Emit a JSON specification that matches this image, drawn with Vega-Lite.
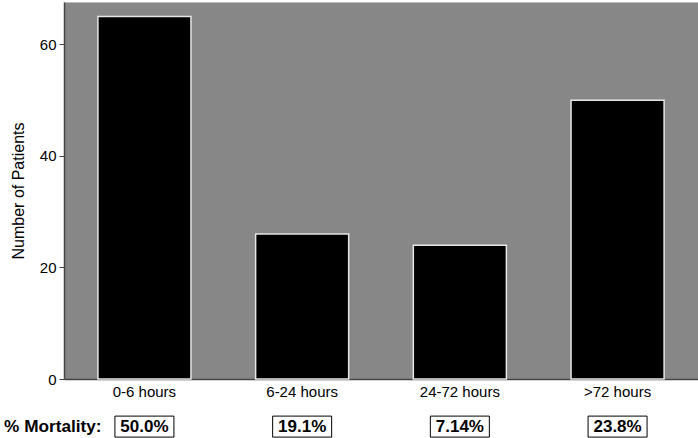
{
  "$schema": "https://vega.github.io/schema/vega-lite/v6.json",
  "padding": {"left": 3, "top": 1, "right": 1, "bottom": 0},
  "config": {"font": "Liberation Sans", "view": {"stroke": null}},
  "data": {"values": [
    {"cat": "0-6 hours", "patients": 65, "mortality": "50.0%"},
    {"cat": "6-24 hours", "patients": 26, "mortality": "19.1%"},
    {"cat": "24-72 hours", "patients": 24, "mortality": "7.14%"},
    {"cat": ">72 hours", "patients": 50, "mortality": "23.8%"}
  ]},
  "bounds": "flush",
  "spacing": 36.6,
  "vconcat": [
    {
      "width": 634,
      "height": 377,
      "view": {"fill": "#878787", "stroke": "#bbbbbb"},
      "mark": {"type": "bar", "color": "black", "stroke": "#e6e6e6", "strokeWidth": 1.5},
      "encoding": {
        "x": {"field": "cat", "type": "nominal", "sort": null,
          "scale": {"paddingInner": 0.41, "paddingOuter": 0.215},
          "axis": {"title": null, "labelAngle": 0, "labelFontSize": 15, "labelColor": "black", "ticks": false,
            "domainColor": "#444444", "domainWidth": 1.5, "labelPadding": 5}},
        "y": {"field": "patients", "type": "quantitative",
          "scale": {"domain": [0, 67.6], "nice": false},
          "axis": {"values": [0, 20, 40, 60], "title": "Number of Patients", "titleFontSize": 16, "titleFontWeight": "normal",
            "titleColor": "black", "labelFontSize": 15, "labelColor": "black", "grid": false, "tickSize": 5,
            "tickColor": "#444444", "domainColor": "#444444", "domainWidth": 1.5, "labelPadding": 3, "titlePadding": 13}}
      }
    },
    {
      "width": 634,
      "height": 22,
      "encoding": {
        "x": {"field": "cat", "type": "nominal", "sort": null,
          "scale": {"paddingInner": 0.41, "paddingOuter": 0.215}, "axis": null},
        "y": {"datum": "% Mortality:", "type": "nominal", "scale": {"padding": 0},
          "axis": {"title": null, "domain": false, "ticks": false, "labelFontSize": 17.2, "labelFontWeight": "bold",
            "labelColor": "black", "labelPadding": -37}}
      },
      "layer": [
        {"mark": {"type": "rect", "width": 59, "height": 21, "fill": "white", "stroke": "black", "strokeWidth": 1}},
        {"mark": {"type": "text", "fontSize": 17, "fontWeight": "bold", "color": "black"},
          "encoding": {"text": {"field": "mortality"}}}
      ]
    }
  ]
}
